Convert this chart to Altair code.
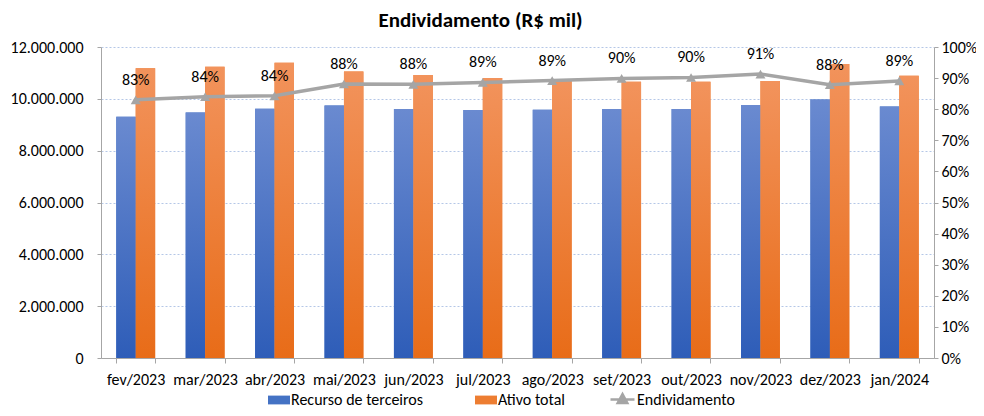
import altair as alt
import pandas as pd

months = ["fev/2023", "mar/2023", "abr/2023", "mai/2023", "jun/2023", "jul/2023",
          "ago/2023", "set/2023", "out/2023", "nov/2023", "dez/2023", "jan/2024"]
recurso = [9310000, 9470000, 9620000, 9740000, 9610000, 9570000,
           9580000, 9610000, 9610000, 9760000, 9970000, 9700000]
ativo = [11180000, 11240000, 11390000, 11050000, 10920000, 10800000,
         10740000, 10660000, 10660000, 10690000, 11340000, 10890000]
endiv = [0.830, 0.840, 0.843, 0.881, 0.880, 0.886,
         0.892, 0.899, 0.902, 0.913, 0.879, 0.891]
left_ticks = [0, 2000000, 4000000, 6000000, 8000000, 10000000, 12000000]
right_ticks = [0.0, 0.1, 0.2, 0.3, 0.4, 0.5, 0.6, 0.7, 0.8, 0.9, 1.0]

S1 = "Recurso de terceiros"
S2 = "Ativo total"
S3 = "Endividamento"

bars = pd.DataFrame(
    [{"mes": m, "serie": S1, "valor": v} for m, v in zip(months, recurso)]
    + [{"mes": m, "serie": S2, "valor": v} for m, v in zip(months, ativo)]
)
line = pd.DataFrame({"mes": months, "endiv": endiv, "serie": [S3] * len(months)})

FONT = "Carlito, Lato, sans-serif"
GRAY = "#A5A5A5"
FS = 16

xscale = alt.Scale(domain=months, paddingInner=0.44, paddingOuter=0.22)
xaxis = alt.Axis(title=None, tickBand="extent", labelFontSize=FS, labelPadding=8, labelAngle=0,
                 labelOverlap=False,
                 domainColor="#A6A6A6", tickColor="#A6A6A6", tickSize=5, labelColor="#000000")
X = alt.X("mes:N", scale=xscale, axis=xaxis, sort=months)
xoff = alt.XOffset("serie:N", scale=alt.Scale(domain=[S1, S2]), sort=[S1, S2])

yleft = alt.Y("valor:Q", scale=alt.Scale(domain=[0, 12000000]),
              axis=alt.Axis(title=None, values=left_ticks,
                            labelExpr="replace(replace(format(datum.value, ','), ',', '.'), ',', '.')",
                            labelFontSize=FS, labelPadding=14, tickSize=4, labelOverlap=False,
                            domainColor="#A6A6A6", tickColor="#A6A6A6", labelColor="#000000",
                            grid=True, gridColor="#B4C7E7", gridDash=[2, 2], gridWidth=1))

base_bars = alt.Chart(bars).mark_bar().encode(
    x=X,
    xOffset=xoff,
    y=yleft,
    color=alt.Color("serie:N", scale=alt.Scale(domain=[S1, S2], range=["#4472C4", "#ED7D31"]),
                    legend=alt.Legend(title=None, orient="none", direction="horizontal",
                                      legendX=167, legendY=342, columnPadding=51,
                                      symbolType="M-1,-0.4L1,-0.4L1,0.4L-1,0.4Z",
                                      symbolSize=484, labelFontSize=FS, labelOffset=1,
                                      labelColor="#000000", symbolStrokeWidth=0)),
)

def grad(top, bottom):
    return alt.Gradient(gradient="linear", x1=0, x2=0, y1=0, y2=1,
                        stops=[alt.GradientStop(color=top, offset=0),
                               alt.GradientStop(color=bottom, offset=1)])

g1 = alt.Chart(bars).transform_filter(alt.datum.serie == S1).mark_bar(
    color=grad("#6A8AD0", "#2E5DB8")).encode(x=X, xOffset=xoff, y=yleft)
g2 = alt.Chart(bars).transform_filter(alt.datum.serie == S2).mark_bar(
    color=grad("#F2935C", "#E86C18")).encode(x=X, xOffset=xoff, y=yleft)

bar_layer = alt.layer(base_bars, g1, g2)

yright = alt.Y("endiv:Q", scale=alt.Scale(domain=[0, 1]),
               axis=alt.Axis(title=None, orient="right", format=".0%",
                             values=right_ticks, labelOverlap=False,
                             labelFontSize=FS, labelPadding=3, tickSize=4,
                             domainColor="#A6A6A6", tickColor="#A6A6A6",
                             labelColor="#000000", grid=False))

ln = alt.Chart(line).mark_line(strokeWidth=3.5).encode(
    x=X,
    y=yright,
    stroke=alt.Stroke("serie:N", scale=alt.Scale(domain=[S3], range=[GRAY]),
                      legend=alt.Legend(title=None, orient="none", legendX=508, legendY=339,
                                        symbolType="M-1,0L1,0M0,-0.45L0.4,0.3L-0.4,0.3Z",
                                        symbolSize=576, symbolStrokeWidth=2.5,
                                        symbolFillColor=GRAY, labelFontSize=FS,
                                        labelOffset=1, labelColor="#000000")),
)
pts = alt.Chart(line).mark_point(shape="triangle-up", filled=True, size=100,
                                 color=GRAY, opacity=1).encode(x=X, y=yright)
lbl = alt.Chart(line).mark_text(dy=-20, fontSize=FS, color="#000000", font=FONT).encode(
    x=X, y=yright,
    text=alt.Text("endiv:Q", format=".0%"))

line_layer = alt.layer(ln, pts, lbl)

chart = alt.layer(bar_layer, line_layer).resolve_scale(
    y="independent"
).properties(
    width=833, height=311,
    autosize=alt.AutoSizeParams(type="none"),
    padding={"left": 93, "top": 39, "right": 42, "bottom": 50},
    title=alt.TitleParams("Endividamento (R$ mil)", fontSize=21, fontWeight="bold",
                          font=FONT, color="#000000", dx=-37, offset=8),
).configure(font=FONT).configure_view(stroke=None).configure_legend(
    labelFont=FONT
).configure_axis(labelFont=FONT)

chart.save("out.html", embed_options={"renderer": "svg", "actions": False})
